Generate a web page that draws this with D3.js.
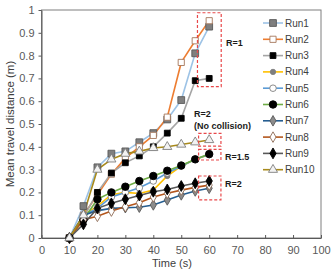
<!DOCTYPE html>
<html>
<head>
<meta charset="utf-8">
<script src="https://cdn.jsdelivr.net/npm/d3@7"></script>
<style>
  body { margin: 0; background: #fff; }
  svg { font-family: "Liberation Sans", Arial, sans-serif; }
</style>
</head>
<body>
<div id="chart"></div>
<script>
(function () {
    // data
    var times = [10, 15, 20, 25, 30, 35, 40, 45, 50, 55, 60];
    var run1  = [0, 0.14, 0.31, 0.37, 0.38, 0.42, 0.46, 0.52, 0.605, 0.81, 0.927];
    var run2  = [0, 0.10, 0.19, 0.28, 0.35, 0.40, 0.45, 0.53, 0.77, 0.865, 0.953];
    var run3  = [0, 0.09, 0.20, 0.285, 0.33, 0.36, 0.40, 0.46, 0.525, 0.69, 0.70];
    var run4  = [0, 0.10, 0.14, 0.19, 0.20, 0.195, 0.21, 0.272, 0.315, 0.345, 0.365];
    var run5  = [0, 0.10, 0.13, 0.18, 0.20, 0.22, 0.25, 0.285, 0.315, 0.345, 0.366];
    var run6  = [0, 0.08, 0.17, 0.20, 0.225, 0.25, 0.272, 0.295, 0.318, 0.345, 0.368];
    var run7  = [0, 0.10, 0.12, 0.13, 0.133, 0.135, 0.145, 0.167, 0.189, 0.206, 0.218];
    var run8  = [0, 0.08, 0.095, 0.118, 0.137, 0.155, 0.18, 0.196, 0.21, 0.222, 0.232];
    var run9  = [0, 0.06, 0.13, 0.152, 0.17, 0.186, 0.203, 0.213, 0.228, 0.24, 0.25];
    var run10 = [0, 0.10, 0.30, 0.345, 0.37, 0.38, 0.395, 0.40, 0.41, 0.42, 0.43];
    var runNames = ['Run1', 'Run2', 'Run3', 'Run4', 'Run5', 'Run6', 'Run7', 'Run8', 'Run9', 'Run10'];
    var xTicks = [0, 10, 20, 30, 40, 50, 60, 70, 80, 90, 100];
    var yTicks = [0, 0.1, 0.2, 0.3, 0.4, 0.5, 0.6, 0.7, 0.8, 0.9, 1];

    // red dashed boxes: [t0, t1, v0, v1]
    var boxes = [[55.8, 64.3, 0.664, 0.988], [56.2, 64.2, 0.403, 0.459],
                 [56.2, 64.2, 0.342, 0.389], [56.2, 64.2, 0.167, 0.272]];

    var runs = [run1, run2, run3, run4, run5, run6, run7, run8, run9, run10];

    // line colour, marker shape, marker fill, marker stroke
    var styles = [
        { line: '#9dc3e6', shape: d3.symbolSquare,   fill: '#7f7f7f', stroke: '#595959', size: 46 },
        { line: '#ed7d31', shape: d3.symbolSquare,   fill: '#ffffff', stroke: '#a5765a', size: 38 },
        { line: '#a5a5a5', shape: d3.symbolSquare,   fill: '#000000', stroke: '#000000', size: 34 },
        { line: '#ffc000', shape: d3.symbolCircle,   fill: '#7f7f7f', stroke: '#7f7f7f', size: 22 },
        { line: '#5b9bd5', shape: d3.symbolCircle,   fill: '#ffffff', stroke: '#7f7f7f', size: 34 },
        { line: '#70ad47', shape: d3.symbolCircle,   fill: '#000000', stroke: '#000000', size: 44 },
        { line: '#255e91', shape: d3.symbolDiamond,  fill: '#8c8c8c', stroke: '#595959', size: 32 },
        { line: '#b4561c', shape: d3.symbolDiamond,  fill: '#ffffff', stroke: '#8c6a55', size: 32 },
        { line: '#595959', shape: d3.symbolDiamond,  fill: '#000000', stroke: '#000000', size: 34 },
        { line: '#a88a1c', shape: d3.symbolTriangle, fill: '#f2f2f2', stroke: '#7f7f7f', size: 36 }
    ];

    var w = 332, h = 271;
    var left = 41.5, right = 321, top = 10, bottom = 238;

    var svg = d3.select('#chart')
        .append('svg')
            .attr('width', w)
            .attr('height', h);

    var x = d3.scaleLinear().domain([0, 100]).range([left, right]);
    var y = d3.scaleLinear().domain([0, 1]).range([bottom, top]);

    // plot frame
    svg.append('rect')
        .attr('x', left)
        .attr('y', top)
        .attr('width', right - left)
        .attr('height', bottom - top)
        .style('fill', 'none')
        .style('stroke', '#7f7f7f')
        .style('stroke-width', 1);

    // axes
    var xAxis = svg.append('g')
        .attr('transform', 'translate(0,' + bottom + ')')
        .call(d3.axisBottom(x).tickValues(xTicks).tickSizeInner(-3).tickSizeOuter(0).tickPadding(8));
    var yAxis = svg.append('g')
        .attr('transform', 'translate(' + left + ',0)')
        .call(d3.axisLeft(y).tickValues(yTicks).tickSizeInner(3).tickSizeOuter(0).tickPadding(4)
            .tickFormat(function (d) { return d3.format('~g')(d); }));

    [xAxis, yAxis].forEach(function (g) {
        g.select('.domain').style('stroke', '#595959');
        g.selectAll('.tick line').style('stroke', '#595959');
        g.selectAll('.tick text')
            .style('fill', '#595959')
            .style('font-size', '11px');
    });

    // axis titles
    svg.append('text')
        .text('Time (s)')
        .attr('x', 172)
        .attr('y', 267)
        .attr('text-anchor', 'middle')
        .style('font-size', '11px')
        .style('fill', '#404040');
    svg.append('text')
        .text('Mean travel distance (m)')
        .attr('transform', 'translate(14,124) rotate(-90)')
        .attr('text-anchor', 'middle')
        .style('font-size', '11.5px')
        .style('fill', '#404040');

    // series lines
    var line = d3.line()
        .x(function (d, i) { return x(times[i]); })
        .y(function (d) { return y(d); });

    runs.forEach(function (values, k) {
        svg.append('path')
            .datum(values)
            .attr('d', line)
            .style('fill', 'none')
            .style('stroke', styles[k].line)
            .style('stroke-width', 1.6);
    });

    // markers
    runs.forEach(function (values, k) {
        var s = styles[k];
        svg.append('g')
            .selectAll('path')
            .data(values)
            .enter()
            .append('path')
                .attr('d', d3.symbol().type(s.shape).size(s.size))
                .attr('transform', function (d, i) { return 'translate(' + x(times[i]) + ',' + y(d) + ')'; })
                .style('fill', s.fill)
                .style('stroke', s.stroke)
                .style('stroke-width', 0.9);
    });

    // red dashed boxes
    svg.append('g')
        .selectAll('rect')
        .data(boxes)
        .enter()
        .append('rect')
            .attr('x', function (d) { return x(d[0]); })
            .attr('y', function (d) { return y(d[3]); })
            .attr('width', function (d) { return x(d[1]) - x(d[0]); })
            .attr('height', function (d) { return y(d[2]) - y(d[3]); })
            .style('fill', 'none')
            .style('stroke', '#e8484a')
            .style('stroke-width', 1.2)
            .style('stroke-dasharray', '3,2');

    // box labels
    var notes = [
        { t: 'R=1', x: 226, y: 46 },
        { t: 'R=2', x: 194, y: 117 },
        { t: '(No collision)', x: 194, y: 129 },
        { t: 'R=1.5', x: 225, y: 160 },
        { t: 'R=2', x: 225, y: 187 }
    ];
    svg.append('g')
        .selectAll('text')
        .data(notes)
        .enter()
        .append('text')
            .text(function (d) { return d.t; })
            .attr('x', function (d) { return d.x; })
            .attr('y', function (d) { return d.y; })
            .style('font-size', '9px')
            .style('font-weight', 'bold')
            .style('fill', '#1a1a1a');

    // legend
    var legend = svg.append('g')
        .selectAll('g')
        .data(runNames)
        .enter()
        .append('g')
            .attr('transform', function (d, i) { return 'translate(0,' + (23 + i * 16.3) + ')'; });

    legend.append('line')
        .attr('x1', 263)
        .attr('x2', 283)
        .style('stroke', function (d, i) { return styles[i].line; })
        .style('stroke-width', 1.6);
    legend.append('path')
        .attr('d', function (d, i) { return d3.symbol().type(styles[i].shape).size(styles[i].size)(); })
        .attr('transform', 'translate(273,0)')
        .style('fill', function (d, i) { return styles[i].fill; })
        .style('stroke', function (d, i) { return styles[i].stroke; })
        .style('stroke-width', 0.9);
    legend.append('text')
        .text(function (d) { return d; })
        .attr('x', 285)
        .attr('dy', '0.35em')
        .style('font-size', '10px')
        .style('fill', '#404040');
})();
</script>
</body>
</html>
